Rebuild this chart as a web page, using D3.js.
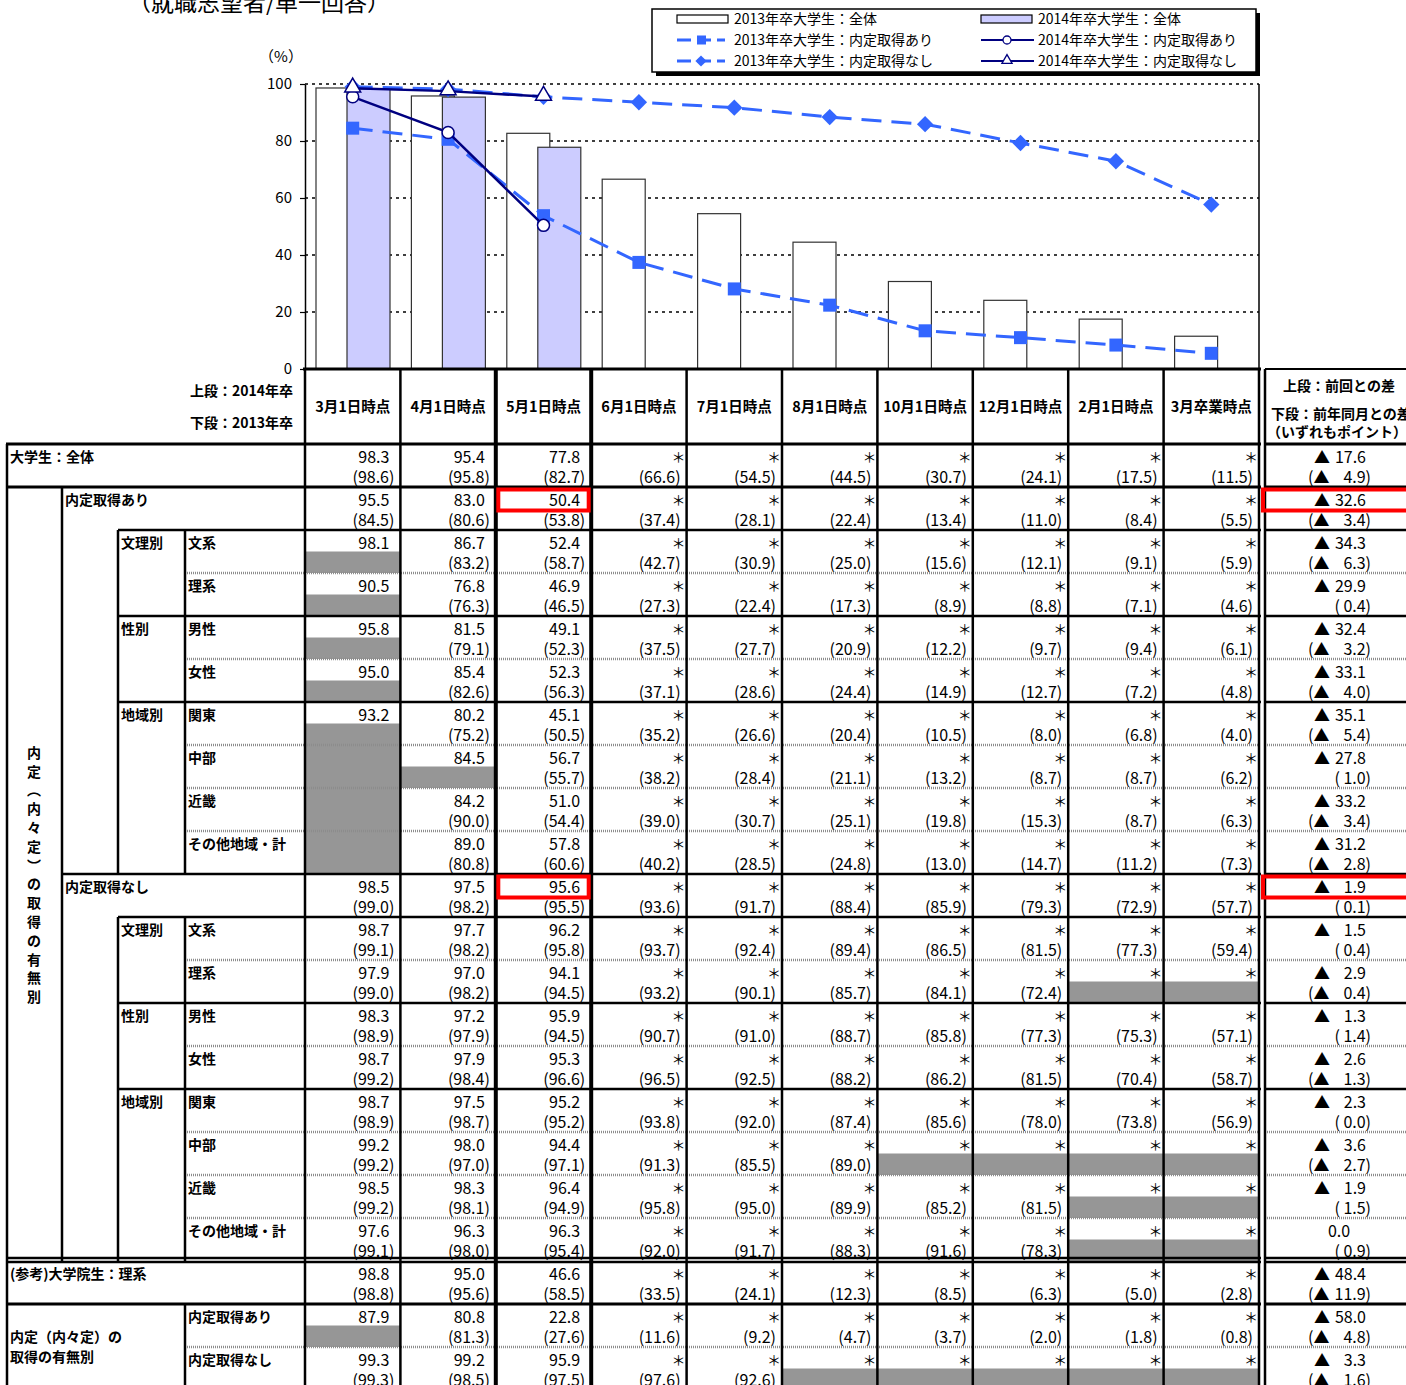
<!DOCTYPE html>
<html>
<head>
<meta charset="utf-8">
<script src="https://cdn.jsdelivr.net/npm/d3@7"></script>
<style>
body { margin: 0; background: #fff; }
text { font-family: "Noto Sans CJK JP", "Noto Sans", sans-serif; }
</style>
</head>
<body>
<div id="chart"></div>
<script>
// ---- data ----
var months = ["3月1日時点","4月1日時点","5月1日時点","6月1日時点","7月1日時点","8月1日時点","10月1日時点","12月1日時点","2月1日時点","3月卒業時点"];
var yTicks = [0, 20, 40, 60, 80, 100];

var all2013   = [98.6, 95.8, 82.7, 66.6, 54.5, 44.5, 30.7, 24.1, 17.5, 11.5];
var all2014   = [98.3, 95.4, 77.8];
var ari2013   = [84.5, 80.6, 53.8, 37.4, 28.1, 22.4, 13.4, 11.0, 8.4, 5.5];
var nashi2013 = [99.0, 98.2, 95.5, 93.6, 91.7, 88.4, 85.9, 79.3, 72.9, 57.7];
var ari2014   = [95.5, 83.0, 50.4];
var nashi2014 = [98.5, 97.5, 95.6];

var legendLabels = ["2013年卒大学生：全体", "2014年卒大学生：全体",
                    "2013年卒大学生：内定取得あり", "2014年卒大学生：内定取得あり",
                    "2013年卒大学生：内定取得なし", "2014年卒大学生：内定取得なし"];

// table rows (label, row kind)
var rowNames = ["大学生：全体","内定取得あり","文系","理系","男性","女性","関東","中部","近畿","その他地域・計",
                "内定取得なし","文系","理系","男性","女性","関東","中部","近畿","その他地域・計",
                "(参考)大学院生：理系","内定取得あり","内定取得なし"];
var rowLevel = [0,1,3,3,3,3,3,3,3,3, 1,3,3,3,3,3,3,3,3, 0,3,3];
var rowTopLine = ["","full","sub","minor","sub","minor","sub","minor","minor","minor",
                  "grp","sub","minor","sub","minor","sub","minor","minor","minor","double","full","minor"];
var groupLabels = [[2,"文理別"],[4,"性別"],[6,"地域別"],[11,"文理別"],[13,"性別"],[15,"地域別"]];

// upper: 2014 (null = no data, grey); columns after the third show "*"
var upper = [
  all2014, ari2014,
  [98.1, 86.7, 52.4], [90.5, 76.8, 46.9], [95.8, 81.5, 49.1], [95.0, 85.4, 52.3],
  [93.2, 80.2, 45.1], [null, 84.5, 56.7], [null, 84.2, 51.0], [null, 89.0, 57.8],
  nashi2014,
  [98.7, 97.7, 96.2], [97.9, 97.0, 94.1], [98.3, 97.2, 95.9], [98.7, 97.9, 95.3],
  [98.7, 97.5, 95.2], [99.2, 98.0, 94.4], [98.5, 98.3, 96.4], [97.6, 96.3, 96.3],
  [98.8, 95.0, 46.6], [87.9, 80.8, 22.8], [99.3, 99.2, 95.9]
];
// lower: 2013
var lower = [
  all2013, ari2013,
  [null, 83.2, 58.7, 42.7, 30.9, 25.0, 15.6, 12.1, 9.1, 5.9],
  [null, 76.3, 46.5, 27.3, 22.4, 17.3, 8.9, 8.8, 7.1, 4.6],
  [null, 79.1, 52.3, 37.5, 27.7, 20.9, 12.2, 9.7, 9.4, 6.1],
  [null, 82.6, 56.3, 37.1, 28.6, 24.4, 14.9, 12.7, 7.2, 4.8],
  [null, 75.2, 50.5, 35.2, 26.6, 20.4, 10.5, 8.0, 6.8, 4.0],
  [null, null, 55.7, 38.2, 28.4, 21.1, 13.2, 8.7, 8.7, 6.2],
  [null, 90.0, 54.4, 39.0, 30.7, 25.1, 19.8, 15.3, 8.7, 6.3],
  [null, 80.8, 60.6, 40.2, 28.5, 24.8, 13.0, 14.7, 11.2, 7.3],
  nashi2013,
  [99.1, 98.2, 95.8, 93.7, 92.4, 89.4, 86.5, 81.5, 77.3, 59.4],
  [99.0, 98.2, 94.5, 93.2, 90.1, 85.7, 84.1, 72.4, null, null],
  [98.9, 97.9, 94.5, 90.7, 91.0, 88.7, 85.8, 77.3, 75.3, 57.1],
  [99.2, 98.4, 96.6, 96.5, 92.5, 88.2, 86.2, 81.5, 70.4, 58.7],
  [98.9, 98.7, 95.2, 93.8, 92.0, 87.4, 85.6, 78.0, 73.8, 56.9],
  [99.2, 97.0, 97.1, 91.3, 85.5, 89.0, null, null, null, null],
  [99.2, 98.1, 94.9, 95.8, 95.0, 89.9, 85.2, 81.5, null, null],
  [99.1, 98.0, 95.4, 92.0, 91.7, 88.3, 91.6, 78.3, null, null],
  [98.8, 95.6, 58.5, 33.5, 24.1, 12.3, 8.5, 6.3, 5.0, 2.8],
  [null, 81.3, 27.6, 11.6, 9.2, 4.7, 3.7, 2.0, 1.8, 0.8],
  [99.3, 98.5, 97.5, 97.6, 92.6, null, null, null, null, null]
];
// point differences (negative = ▲)
var diffPrev = [-17.6,-32.6,-34.3,-29.9,-32.4,-33.1,-35.1,-27.8,-33.2,-31.2,
                -1.9,-1.5,-2.9,-1.3,-2.6,-2.3,-3.6,-1.9,0.0,-48.4,-58.0,-3.3];
var diffYear = [-4.9,-3.4,-6.3,0.4,-3.2,-4.0,-5.4,1.0,-3.4,-2.8,
                0.1,0.4,-0.4,1.4,-1.3,0.0,-2.7,1.5,0.9,-11.9,-4.8,-1.6];
var highlightRows = [1, 10];

// ---- drawing ----
var W = 1406, H = 1385;
var svg = d3.select("#chart").append("svg").attr("width", W).attr("height", H);

var x = d3.scaleBand().domain(months).range([305, 1259]);
var y = d3.scaleLinear().domain([0, 100]).range([369, 84]);
var rowY = d3.scaleBand().domain(d3.range(rowNames.length)).range([444, 444 + 43 * rowNames.length]);
var f1 = d3.format(".1f");
var bw = x.bandwidth();
var rh = rowY.bandwidth();

// title (cut off at top)
svg.append("text").attr("x", 128).attr("y", 11).attr("font-size", 23).text("（就職志望者/単一回答）");
svg.append("text").attr("x", 281).attr("y", 62).attr("font-size", 15).attr("text-anchor", "middle").text("（%）");

// gridlines
svg.append("g").selectAll("line").data(yTicks.filter(function(d){ return d > 0; })).enter().append("line")
  .attr("x1", 305).attr("x2", 1259).attr("y1", y).attr("y2", y)
  .attr("stroke", "#000").attr("stroke-width", 1.5).attr("stroke-dasharray", "3,4");

// bars
svg.append("g").selectAll("rect").data(all2013).enter().append("rect")
  .attr("x", function(d, i){ return x(months[i]) + 11; })
  .attr("y", y).attr("width", 43).attr("height", function(d){ return y(0) - y(d); })
  .attr("fill", "#fff").attr("stroke", "#333").attr("stroke-width", 1.2);
svg.append("g").selectAll("rect").data(all2014).enter().append("rect")
  .attr("x", function(d, i){ return x(months[i]) + 42; })
  .attr("y", y).attr("width", 43).attr("height", function(d){ return y(0) - y(d); })
  .attr("fill", "#ccccff").attr("stroke", "#333").attr("stroke-width", 1.2);

// frame
svg.append("line").attr("x1", 1259).attr("x2", 1259).attr("y1", y(100)).attr("y2", y(0)).attr("stroke", "#000").attr("stroke-width", 1.5);

// y axis
var yAxis = svg.append("g").attr("transform", "translate(305,0)")
  .call(d3.axisLeft(y).tickValues(yTicks).tickSize(5).tickSizeOuter(0).tickPadding(8));
yAxis.select(".domain").attr("stroke", "#000").attr("stroke-width", 1.5);
yAxis.selectAll(".tick line").attr("stroke", "#000").attr("stroke-width", 1.2);
yAxis.selectAll(".tick text").attr("font-size", 15).attr("fill", "#000")
  .attr("font-family", "'Noto Sans CJK JP', sans-serif");

var cx = function(d, i){ return x(months[i]) + bw / 2; };
var line = d3.line().x(cx).y(function(d){ return y(d); });
var blue = "#3366ff", navy = "#000080";

function dashedSeries(data) {
  svg.append("path").datum(data).attr("d", line).attr("fill", "none")
    .attr("stroke", blue).attr("stroke-width", 3).attr("stroke-dasharray", "20,10");
}
dashedSeries(ari2013);
dashedSeries(nashi2013);
svg.append("g").selectAll("rect").data(ari2013).enter().append("rect")
  .attr("x", function(d, i){ return cx(d, i) - 6.5; }).attr("y", function(d){ return y(d) - 6.5; })
  .attr("width", 13).attr("height", 13).attr("fill", blue);
svg.append("g").selectAll("path").data(nashi2013).enter().append("path")
  .attr("d", d3.symbol().type(d3.symbolDiamond2).size(170))
  .attr("transform", function(d, i){ return "translate(" + cx(d, i) + "," + y(d) + ")"; })
  .attr("fill", blue);

function solidSeries(data) {
  svg.append("path").datum(data).attr("d", line).attr("fill", "none")
    .attr("stroke", navy).attr("stroke-width", 2.5);
}
solidSeries(ari2014);
solidSeries(nashi2014);
svg.append("g").selectAll("circle").data(ari2014).enter().append("circle")
  .attr("cx", cx).attr("cy", function(d){ return y(d); }).attr("r", 6)
  .attr("fill", "#fff").attr("stroke", navy).attr("stroke-width", 1.5);
svg.append("g").selectAll("path").data(nashi2014).enter().append("path")
  .attr("d", d3.symbol().type(d3.symbolTriangle).size(110))
  .attr("transform", function(d, i){ return "translate(" + cx(d, i) + "," + (y(d) - 1) + ")"; })
  .attr("fill", "#fff").attr("stroke", navy).attr("stroke-width", 1.5);

// legend
var lg = svg.append("g");
lg.append("rect").attr("x", 656).attr("y", 13).attr("width", 604).attr("height", 63).attr("fill", "#000");
lg.append("rect").attr("x", 652).attr("y", 9).attr("width", 604).attr("height", 63).attr("fill", "#fff").attr("stroke", "#000").attr("stroke-width", 1.5);
legendLabels.forEach(function(lab, i) {
  var col = i % 2, row = Math.floor(i / 2);
  var sx = col ? 981 : 677, tx = col ? 1038 : 734, ly = 19 + row * 21;
  var g = lg.append("g");
  if (row === 0) {
    g.append("rect").attr("x", sx).attr("y", ly - 4).attr("width", 51).attr("height", 8)
      .attr("fill", col ? "#ccccff" : "#fff").attr("stroke", "#000").attr("stroke-width", 1.2);
  } else if (col === 0) {
    g.append("line").attr("x1", sx).attr("x2", sx + 48).attr("y1", ly).attr("y2", ly)
      .attr("stroke", blue).attr("stroke-width", 3).attr("stroke-dasharray", "14,6");
    if (row === 1) g.append("rect").attr("x", sx + 20).attr("y", ly - 4.5).attr("width", 9).attr("height", 9).attr("fill", blue);
    else g.append("path").attr("d", d3.symbol().type(d3.symbolDiamond2).size(80)).attr("transform", "translate(" + (sx + 24) + "," + ly + ")").attr("fill", blue);
  } else {
    g.append("line").attr("x1", sx).attr("x2", sx + 53).attr("y1", ly).attr("y2", ly)
      .attr("stroke", navy).attr("stroke-width", 2.2);
    if (row === 1) g.append("circle").attr("cx", sx + 26).attr("cy", ly).attr("r", 4).attr("fill", "#fff").attr("stroke", navy).attr("stroke-width", 1.3);
    else g.append("path").attr("d", d3.symbol().type(d3.symbolTriangle).size(45)).attr("transform", "translate(" + (sx + 26) + "," + (ly - 0.5) + ")").attr("fill", "#fff").attr("stroke", navy).attr("stroke-width", 1.3);
  }
  g.append("text").attr("x", tx).attr("y", ly + 5).attr("font-size", 14).text(lab);
});

// ---- table ----
var tb = svg.append("g");
var grey = "#969696";
var tableBottom = rowY(rowNames.length - 1) + rh;

// grey cells
rowNames.forEach(function(name, r) {
  months.forEach(function(m, c) {
    var top = rowY(r);
    if (lower[r][c] === null) {
      var full = c < 3 && upper[r][c] === null;
      tb.append("rect").attr("x", x(m)).attr("y", full ? top : top + rh / 2)
        .attr("width", bw).attr("height", full ? rh : rh / 2).attr("fill", grey);
    }
  });
});

// header
tb.append("text").attr("x", 293).attr("y", 396).attr("text-anchor", "end").attr("font-size", 14).attr("font-weight", "bold").text("上段：2014年卒");
tb.append("text").attr("x", 293).attr("y", 428).attr("text-anchor", "end").attr("font-size", 14).attr("font-weight", "bold").text("下段：2013年卒");
months.forEach(function(m) {
  tb.append("text").attr("x", x(m) + bw / 2).attr("y", 412).attr("text-anchor", "middle")
    .attr("font-size", 14.5).attr("font-weight", "bold").text(m);
});
tb.append("text").attr("x", 1339).attr("y", 391).attr("text-anchor", "middle").attr("font-size", 14).attr("font-weight", "bold").text("上段：前回との差");
tb.append("text").attr("x", 1271).attr("y", 419).attr("font-size", 14).attr("font-weight", "bold").text("下段：前年同月との差");
tb.append("text").attr("x", 1337).attr("y", 437).attr("text-anchor", "middle").attr("font-size", 14).attr("font-weight", "bold").text("（いずれもポイント）");

// values
rowNames.forEach(function(name, r) {
  var top = rowY(r);
  months.forEach(function(m, c) {
    var right = x(m) + bw;
    var u = c < upper[r].length ? upper[r][c] : "*";
    if (u === "*") {
      tb.append("text").attr("x", right - 1).attr("y", top + 18).attr("text-anchor", "end").attr("font-size", 14).text("＊");
    } else if (u !== null) {
      tb.append("text").attr("x", right - 11).attr("y", top + 19).attr("text-anchor", "end").attr("font-size", 16).text(f1(u));
    }
    var l = lower[r][c];
    if (l !== null) {
      tb.append("text").attr("x", right - 6).attr("y", top + 39).attr("text-anchor", "end").attr("font-size", 16).text("(" + f1(l) + ")");
    }
  });
  // diff column
  var p = diffPrev[r];
  if (p < 0) {
    tb.append("text").attr("x", 1314).attr("y", top + 19).attr("font-size", 16).text("▲");
    tb.append("text").attr("x", 1366).attr("y", top + 19).attr("text-anchor", "end").attr("font-size", 16).text(f1(-p));
  } else {
    tb.append("text").attr("x", 1339).attr("y", top + 19).attr("text-anchor", "middle").attr("font-size", 16).text(f1(p));
  }
  var q = diffYear[r];
  if (q < 0) {
    tb.append("text").attr("x", 1308).attr("y", top + 39).attr("font-size", 16).text("(▲");
    tb.append("text").attr("x", 1371).attr("y", top + 39).attr("text-anchor", "end").attr("font-size", 16).text(f1(-q) + ")");
  } else {
    tb.append("text").attr("x", 1371).attr("y", top + 39).attr("text-anchor", "end").attr("font-size", 16).text("(  " + f1(q) + ")");
  }
  // row label
  var lx = [10, 65, 121, 188][rowLevel[r]];
  tb.append("text").attr("x", lx).attr("y", top + 18).attr("font-size", 14).attr("font-weight", "bold").text(name);
});
groupLabels.forEach(function(g) {
  tb.append("text").attr("x", 121).attr("y", rowY(g[0]) + 18).attr("font-size", 14).attr("font-weight", "bold").text(g[1]);
});
// vertical group label
var vchars = "内定︵内々定︶の取得の有無別".split("");
var vmid = (rowY(1) + rowY(19)) / 2;
vchars.forEach(function(ch, i) {
  tb.append("text").attr("x", 34).attr("y", vmid + (i - (vchars.length - 1) / 2) * 18.8 + 6)
    .attr("text-anchor", "middle").attr("font-size", 14).attr("font-weight", "bold").text(ch);
});
tb.append("text").attr("x", 10).attr("y", rowY(20) + 38).attr("font-size", 14).attr("font-weight", "bold").text("内定（内々定）の");
tb.append("text").attr("x", 10).attr("y", rowY(21) + 15).attr("font-size", 14).attr("font-weight", "bold").text("取得の有無別");

// horizontal lines
function hline(x1, x2, yy, w, col, dash) {
  var l = tb.append("line").attr("x1", x1).attr("x2", x2).attr("y1", yy).attr("y2", yy)
    .attr("stroke", col || "#000").attr("stroke-width", w);
  if (dash) l.attr("stroke-dasharray", dash);
}
function vline(xx, y1, y2, w) {
  tb.append("line").attr("x1", xx).attr("x2", xx).attr("y1", y1).attr("y2", y2).attr("stroke", "#000").attr("stroke-width", w);
}
hline(303, 1261, 369, 3);
hline(1265, 1406, 369, 2);
hline(6, 1261, 444, 3);
hline(1265, 1406, 444, 3);
var startX = { full: 6, grp: 62, sub: 118, minor: 185, double: 6 };
rowTopLine.forEach(function(kind, r) {
  if (!kind) return;
  var yy = rowY(r);
  if (kind === "minor") {
    hline(185, 1259, yy, 2.5, "#8c8c8c", "1,1");
    hline(1265, 1406, yy, 2.5, "#8c8c8c", "1,1");
  } else if (kind === "double") {
    hline(6, 1261, yy - 3, 2.5); hline(6, 1261, yy + 1, 2.5);
    hline(1265, 1406, yy - 3, 2.5); hline(1265, 1406, yy + 1, 2.5);
  } else {
    hline(startX[kind], 1261, yy, kind === "full" ? 3 : 2.5);
    hline(1265, 1406, yy, kind === "full" ? 3 : 2.5);
  }
});
vline(7, 444, tableBottom, 2.5);
vline(62, rowY(1), rowY(19), 2.5);
vline(118, rowY(2), rowY(10), 2.5);
vline(118, rowY(11), rowY(19), 2.5);
vline(185, rowY(2), rowY(10), 2.5);
vline(185, rowY(11), rowY(19), 2.5);
vline(185, rowY(20), tableBottom, 2.5);
months.forEach(function(m, i) {
  var thick = (i === 2 || i === 3);
  vline(x(m), 369, tableBottom, thick ? 4 : 2.5);
});
vline(1259, 369, tableBottom, 2.5);
vline(1265, 369, tableBottom, 2.5);

// highlight boxes
highlightRows.forEach(function(r) {
  var top = rowY(r);
  tb.append("rect").attr("x", x(months[2]) + 2.5).attr("y", top + 2.5).attr("width", bw - 5).attr("height", 21)
    .attr("fill", "none").attr("stroke", "#ff0000").attr("stroke-width", 4);
  tb.append("rect").attr("x", 1263).attr("y", top + 2.5).attr("width", 150).attr("height", 21)
    .attr("fill", "none").attr("stroke", "#ff0000").attr("stroke-width", 4);
});
</script>
</body>
</html>
